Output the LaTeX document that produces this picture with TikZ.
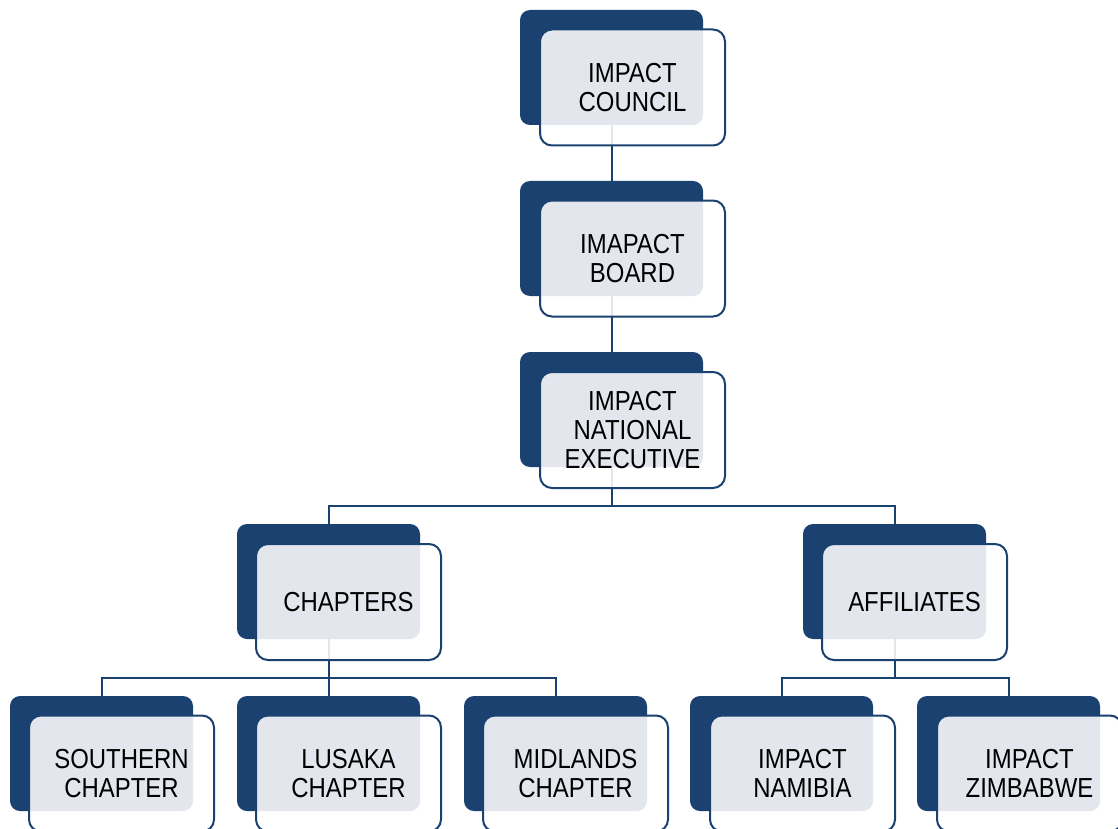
\documentclass[tikz,border=0pt]{standalone}
\usepackage{fontspec}
\newfontfamily\boxfont{Liberation Sans}[FakeStretch=0.87]
\usetikzlibrary{calc,positioning}
\definecolor{navy}{HTML}{1A4170}

\begin{document}
\begin{tikzpicture}[x=1pt,y=-1pt,
    back/.style={fill=navy, rounded corners=10pt, minimum width=183pt, minimum height=115pt, inner sep=0pt},
    front/.style={draw=navy, line width=2pt, fill=white, fill opacity=0.88, text opacity=1,
        rounded corners=12pt, minimum width=185pt, minimum height=116pt, inner sep=0pt,
        align=center, font=\boxfont\fontsize{27.5}{28.8}\selectfont},
    link/.style={draw=navy, line width=2pt}]
        \clip (0,0) rectangle (1118,829);
        % back plates
        \node[back] (council-bk) at (611.5,67.5) {};
        \node[back] (board-bk) at (611.5,238.5) {};
        \node[back] (natexec-bk) at (611.5,409.5) {};
        \node[back] (chapters-bk) at (328.5,581.5) {};
        \node[back] (affiliates-bk) at (894.5,581.5) {};
        \node[back] (southern-bk) at (101.5,753.5) {};
        \node[back] (lusaka-bk) at (328.5,753.5) {};
        \node[back] (midlands-bk) at (555.5,753.5) {};
        \node[back] (namibia-bk) at (781.5,753.5) {};
        \node[back] (zimbabwe-bk) at (1008.5,753.5) {};
        % connectors
        \coordinate (fork1) at (611.5,506);
        \coordinate (fork2) at (328.5,678);
        \coordinate (fork3) at (894.5,678);
        \draw[link] (council-bk.south) -- (board-bk.north);
        \draw[link] (board-bk.south) -- (natexec-bk.north);
        \draw[link] (natexec-bk.south) -- (fork1);
        \draw[link] (chapters-bk.north) |- (fork1) -| (affiliates-bk.north);
        \draw[link] (chapters-bk.south) -- (lusaka-bk.north);
        \draw[link] (southern-bk.north) |- (fork2) -| (midlands-bk.north);
        \draw[link] (affiliates-bk.south) -- (fork3);
        \draw[link] (namibia-bk.north) |- (fork3) -| (zimbabwe-bk.north);
        % front boxes
        \node[front] (council) at ($(council-bk)+(21,20)$) {IMPACT\\COUNCIL};
        \node[front] (board) at ($(board-bk)+(21,20)$) {IMAPACT\\BOARD};
        \node[front] (natexec) at ($(natexec-bk)+(21,20.5)$) {IMPACT\\NATIONAL\\EXECUTIVE};
        \node[front] (chapters) at ($(chapters-bk)+(20,20.5)$) {CHAPTERS};
        \node[front] (affiliates) at ($(affiliates-bk)+(20,20.5)$) {AFFILIATES};
        \node[front] (southern) at ($(southern-bk)+(20,20)$) {SOUTHERN\\CHAPTER};
        \node[front] (lusaka) at ($(lusaka-bk)+(20,20)$) {LUSAKA\\CHAPTER};
        \node[front] (midlands) at ($(midlands-bk)+(20,20)$) {MIDLANDS\\CHAPTER};
        \node[front] (namibia) at ($(namibia-bk)+(21,20)$) {IMPACT\\NAMIBIA};
        \node[front] (zimbabwe) at ($(zimbabwe-bk)+(21,20)$) {IMPACT\\ZIMBABWE};
\end{tikzpicture}
\end{document}
